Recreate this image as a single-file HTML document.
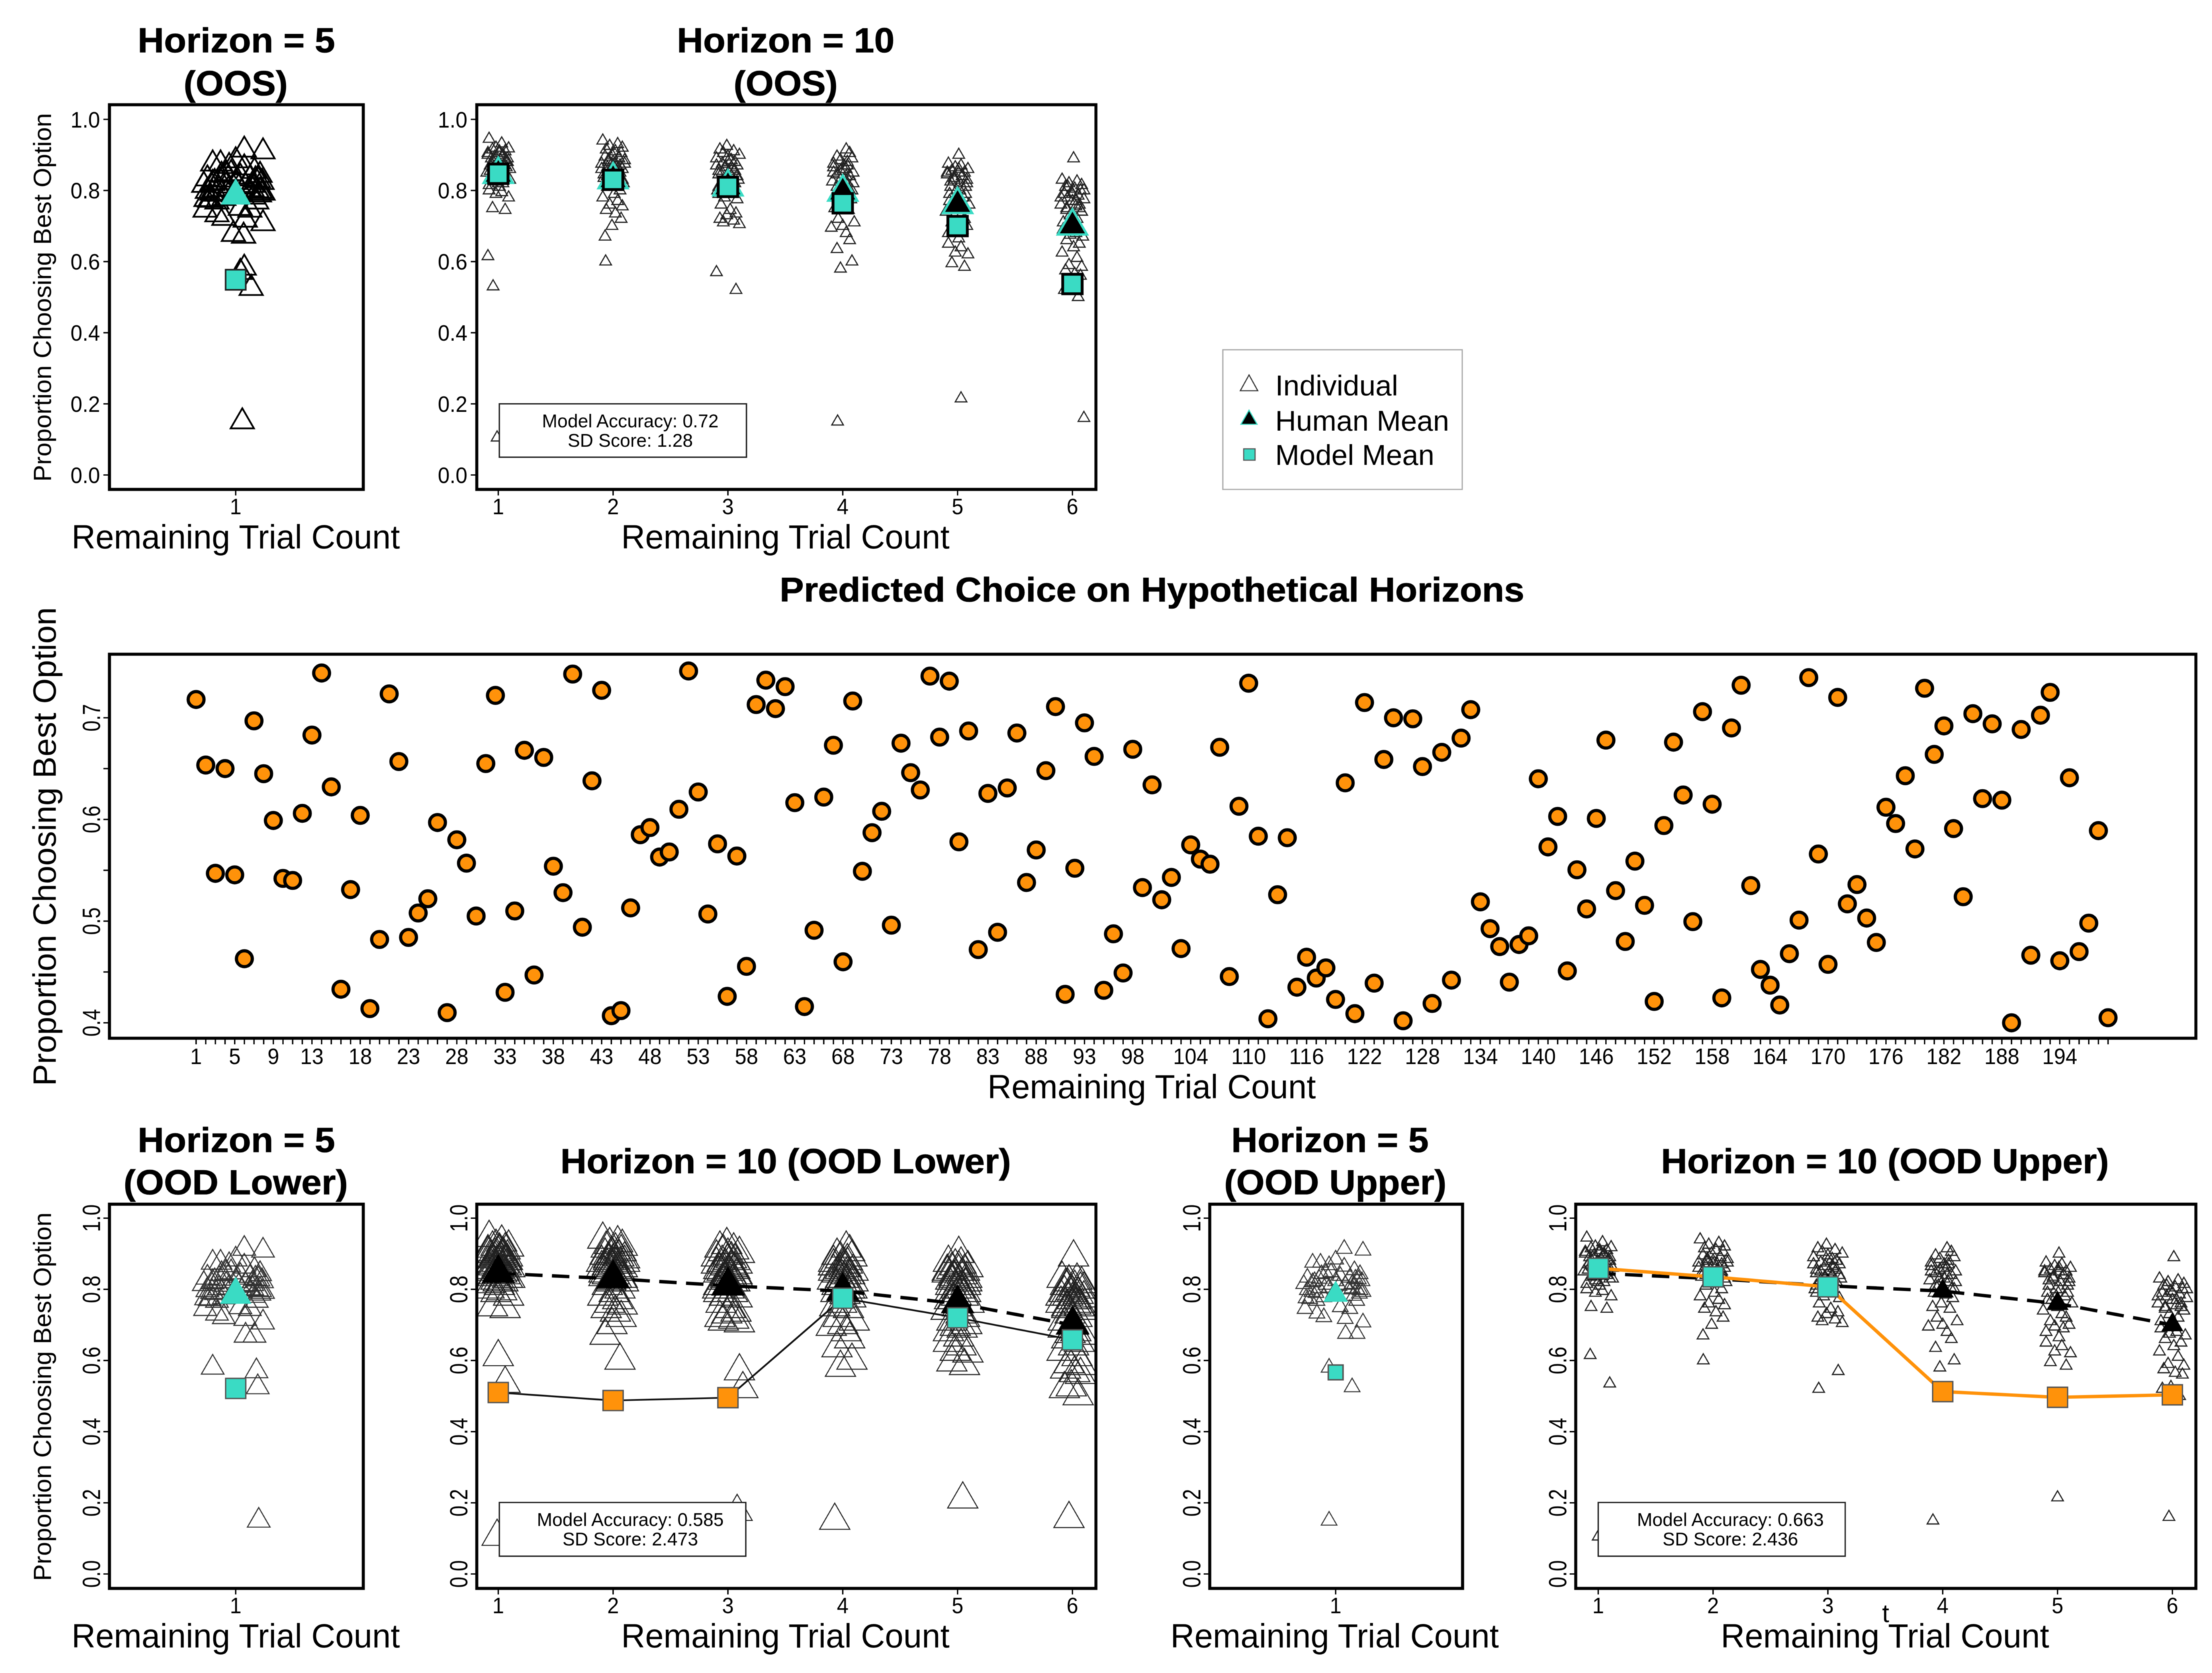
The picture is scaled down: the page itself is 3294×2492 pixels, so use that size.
<!DOCTYPE html>
<html lang="en">
<head>
<meta charset="utf-8">
<title>Model vs Human Choice Panels</title>
<style>
html,body{margin:0;padding:0;background:#fff;}
svg{display:block;filter:blur(0.6px);}
text{font-family:"Liberation Sans",Arial,sans-serif;fill:#000;}
.title{font-weight:bold;font-size:52px;text-anchor:middle;stroke:#000;stroke-width:0.6px;}
.xtitle{font-size:50px;text-anchor:middle;}
.stat{font-size:27.5px;text-anchor:middle;}
.legend{font-size:43px;}
</style>
</head>
<body>
<svg id="figure" xmlns="http://www.w3.org/2000/svg" width="3294" height="2492" viewBox="0 0 3294 2492">
  <rect width="3294" height="2492" fill="#fff"/>

  <text class="title" x="352" y="78" textLength="294" lengthAdjust="spacingAndGlyphs">Horizon = 5</text>
  <text class="title" x="351" y="142" textLength="155" lengthAdjust="spacingAndGlyphs">(OOS)</text>
  <text class="title" x="1170" y="78" textLength="324" lengthAdjust="spacingAndGlyphs">Horizon = 10</text>
  <text class="title" x="1170" y="142" textLength="155" lengthAdjust="spacingAndGlyphs">(OOS)</text>
  <text class="title" x="1715.5" y="896" style="font-size:51px" textLength="1109" lengthAdjust="spacingAndGlyphs">Predicted Choice on Hypothetical Horizons</text>
  <text class="title" x="352" y="1716" textLength="294" lengthAdjust="spacingAndGlyphs">Horizon = 5</text>
  <text class="title" x="351" y="1779" textLength="334" lengthAdjust="spacingAndGlyphs">(OOD Lower)</text>
  <text class="title" x="1170" y="1747.5" textLength="671" lengthAdjust="spacingAndGlyphs">Horizon = 10 (OOD Lower)</text>
  <text class="title" x="1980.5" y="1716" textLength="294" lengthAdjust="spacingAndGlyphs">Horizon = 5</text>
  <text class="title" x="1988.5" y="1779" textLength="331" lengthAdjust="spacingAndGlyphs">(OOD Upper)</text>
  <text class="title" x="2807" y="1747.5" textLength="667" lengthAdjust="spacingAndGlyphs">Horizon = 10 (OOD Upper)</text>

  <g id="plots"></g>

  <text class="xtitle" x="351" y="817" textLength="489" lengthAdjust="spacingAndGlyphs">Remaining Trial Count</text>
  <text class="xtitle" x="1169.5" y="817" textLength="489" lengthAdjust="spacingAndGlyphs">Remaining Trial Count</text>
  <text class="xtitle" x="1715" y="1636" textLength="489" lengthAdjust="spacingAndGlyphs">Remaining Trial Count</text>
  <text class="xtitle" x="351" y="2454" textLength="489" lengthAdjust="spacingAndGlyphs">Remaining Trial Count</text>
  <text class="xtitle" x="1169.5" y="2454" textLength="489" lengthAdjust="spacingAndGlyphs">Remaining Trial Count</text>
  <text class="xtitle" x="1987.5" y="2454" textLength="489" lengthAdjust="spacingAndGlyphs">Remaining Trial Count</text>
  <text class="xtitle" x="2807" y="2454" textLength="489" lengthAdjust="spacingAndGlyphs">Remaining Trial Count</text>
  <text x="2808" y="2416" text-anchor="middle" style="font-size:38px">t</text>

  <text transform="translate(76,443) rotate(-90)" text-anchor="middle" style="font-size:37px" textLength="549" lengthAdjust="spacingAndGlyphs">Proportion Choosing Best Option</text>
  <text transform="translate(83,1261) rotate(-90)" text-anchor="middle" style="font-size:48px" textLength="713" lengthAdjust="spacingAndGlyphs">Proportion Choosing Best Option</text>
  <text transform="translate(76,2080.5) rotate(-90)" text-anchor="middle" style="font-size:37px" textLength="549" lengthAdjust="spacingAndGlyphs">Proportion Choosing Best Option</text>

  <g>
    <rect x="1821" y="521" width="356.5" height="208" fill="#fff" stroke="#aaa" stroke-width="1.8"/>
    <polygon points="1860,558.5 1873,582 1847,582" fill="#fff" stroke="#333" stroke-width="1.6"/>
    <text class="legend" x="1899" y="589" textLength="183" lengthAdjust="spacingAndGlyphs">Individual</text>
    <polygon points="1860,611 1872,632 1848,632" fill="#000" stroke="#3adbc4" stroke-width="1.6"/>
    <text class="legend" x="1899" y="641.5" textLength="259" lengthAdjust="spacingAndGlyphs">Human Mean</text>
    <rect x="1852" y="668.5" width="17" height="17" fill="#3adbc4" stroke="#555" stroke-width="1.6"/>
    <text class="legend" x="1899" y="692.5" textLength="237" lengthAdjust="spacingAndGlyphs">Model Mean</text>
  </g>
</svg>

<script>
// ---------- chart values ----------
const yTickValues = [0, 0.2, 0.4, 0.6, 0.8, 1.0];
const yTickLabels = ["0.0", "0.2", "0.4", "0.6", "0.8", "1.0"];
const xCategoriesH5 = [1];
const xCategoriesH10 = [1, 2, 3, 4, 5, 6];

const humanMeanH10 = [0.845, 0.83, 0.81, 0.795, 0.76, 0.70];
const humanMeanH5 = 0.785;

const modelOosH5 = 0.549;
const modelOosH10 = [0.847, 0.83, 0.81, 0.764, 0.70, 0.537];
const modelLowerH5 = 0.5215;
const modelLowerH10 = [0.51, 0.4875, 0.4955, 0.775, 0.72, 0.658];
const modelUpperH5 = 0.5665;
const modelUpperH10 = [0.859, 0.835, 0.807, 0.5125, 0.4965, 0.5035];

// individuals, horizon 5 (main cluster)
const h5CoreY = [0.875,0.875,0.868,0.884,0.864,0.854,0.843,0.815,0.833,0.823,0.843,0.848,0.838,0.833,0.828,0.823,0.798,0.793,0.803,0.813,0.823,0.813,0.803,0.798,0.793,0.773,0.768,0.778,0.788,0.788,0.768,0.745,0.732,0.722,0.717,0.707,0.914,0.909,0.75,0.745,0.845,0.83,0.82,0.81,0.805,0.8,0.83,0.815,0.8,0.79,0.782,0.775];
const h5CoreJitter = [-0.07,-0.046,-0.02,0,0.026,0.057,0.074,-0.097,-0.086,-0.064,-0.043,-0.014,0.014,0.043,0.069,0.08,-0.086,-0.072,-0.05,-0.029,0,0.029,0.05,0.074,0.083,-0.079,-0.057,-0.036,-0.007,0.072,0.064,-0.093,-0.057,-0.036,0.029,0.083,0.026,0.083,0.014,0.043,-0.03,-0.05,-0.07,0.01,-0.02,0.04,0.06,0.05,0.065,-0.06,0.055,-0.09];

// individuals, horizon 5 (isolated points): [jitter, value]
const h5OutliersOos = [[0.02,0.15],[0.026,0.582],[0.014,0.57],[0.047,0.525],[0.024,0.672],[-0.007,0.677]];
const h5OutliersLower = [[-0.07,0.58],[0.063,0.57],[0.067,0.525],[0.07,0.15],[0.03,0.67],[0.057,0.67]];
const h5OutliersUpper = [[-0.02,0.58],[0.05,0.525],[-0.02,0.15],[0.03,0.675],[0.065,0.675]];

// individuals, horizon 10 (main clusters, one list per trial)
const h10Col1 = [0.945,0.932,0.92,0.918,0.915,0.91,0.905,0.905,0.9,0.895,0.89,0.89,0.885,0.88,0.875,0.87,0.87,0.865,0.86,0.855,0.85,0.845,0.84,0.835,0.83,0.825,0.82,0.815,0.81,0.8,0.795,0.79,0.78,0.75,0.745,0.91,0.9,0.895,0.885,0.88,0.875,0.87,0.865,0.86,0.855,0.85,0.84,0.83,0.82];
const h10Col2 = [0.94,0.93,0.925,0.92,0.915,0.91,0.905,0.9,0.895,0.89,0.885,0.885,0.88,0.875,0.87,0.87,0.865,0.86,0.855,0.85,0.845,0.84,0.835,0.83,0.825,0.82,0.81,0.8,0.79,0.78,0.77,0.76,0.755,0.745,0.735,0.72,0.70,0.67,0.89,0.88,0.875,0.87,0.86,0.855,0.85,0.84,0.83,0.82];
const h10Col3 = [0.925,0.915,0.91,0.905,0.9,0.895,0.89,0.885,0.88,0.875,0.87,0.865,0.86,0.855,0.85,0.845,0.84,0.835,0.83,0.825,0.82,0.81,0.80,0.79,0.78,0.775,0.76,0.745,0.735,0.73,0.72,0.715,0.71,0.705,0.88,0.87,0.865,0.855,0.85,0.84,0.83,0.82,0.81,0.80,0.79];
const h10Col4 = [0.915,0.905,0.895,0.89,0.885,0.88,0.875,0.87,0.865,0.86,0.855,0.85,0.845,0.84,0.83,0.825,0.82,0.81,0.80,0.79,0.785,0.775,0.76,0.75,0.745,0.72,0.71,0.70,0.695,0.68,0.66,0.635,0.60,0.58,0.87,0.865,0.86,0.85,0.84,0.83,0.82,0.81,0.80,0.79];
const h10Col5 = [0.9,0.875,0.87,0.865,0.86,0.855,0.85,0.85,0.845,0.84,0.835,0.83,0.825,0.82,0.81,0.8,0.79,0.78,0.77,0.76,0.75,0.74,0.73,0.72,0.71,0.70,0.695,0.69,0.68,0.665,0.65,0.64,0.625,0.62,0.595,0.585,0.86,0.85,0.84,0.83,0.82,0.81,0.8,0.79,0.78,0.77];
const h10Col6 = [0.89,0.83,0.825,0.82,0.815,0.81,0.805,0.80,0.795,0.79,0.785,0.78,0.775,0.77,0.76,0.755,0.75,0.745,0.74,0.73,0.72,0.71,0.70,0.69,0.68,0.675,0.67,0.66,0.65,0.64,0.625,0.61,0.59,0.585,0.575,0.565,0.56,0.525,0.52,0.50,0.81,0.80,0.79,0.78,0.77,0.76,0.75,0.74];
const h10Jitter = [-0.08,0.03,-0.02,0.09,-0.05,0.06,0.01,-0.09,0.04,-0.03,0.08,-0.06,0.02,0.07,-0.01,-0.07,0.05,-0.04,0.1,0,-0.1,0.03,0.06,-0.05,0.08,-0.02,0.04,-0.08,0.01];

// individuals, horizon 10 (isolated points): [trial, jitter, value]
const h10OutliersOos = [[1,-0.09,0.615],[1,-0.045,0.53],[1,-0.01,0.105],[2,-0.065,0.60],[3,-0.1,0.57],[3,0.07,0.52],[4,-0.045,0.15],[5,0.03,0.215],[6,0.1,0.16]];
const h10OutliersLower = [[1,0,0.61],[1,0.06,0.535],[1,-0.01,0.105],[2,0.06,0.60],[3,0.1,0.57],[3,0.13,0.52],[3,0.08,0.175],[4,-0.07,0.15],[5,0.045,0.21],[6,-0.03,0.155]];
const h10OutliersUpper = [[1,-0.07,0.615],[1,0.1,0.535],[1,0,0.105],[2,-0.085,0.60],[3,-0.08,0.52],[3,0.09,0.57],[4,-0.085,0.15],[5,0,0.215],[6,-0.03,0.16]];

// middle panel
const predictedTrialLabels = [1,5,9,13,18,23,28,33,38,43,48,53,58,63,68,73,78,83,88,93,98,104,110,116,122,128,134,140,146,152,158,164,170,176,182,188,194];
const predictedYTicks = [0.4,0.45,0.5,0.55,0.6,0.65,0.7];
const predictedYLabels = ["0.4","","0.5","","0.6","","0.7"];
const predictedValues = [
0.718,0.6535,0.547,0.650,0.5455,0.463,0.697,0.645,0.599,0.542,
0.540,0.606,0.683,0.744,0.632,0.433,0.531,0.604,0.414,0.482,
0.7235,0.657,0.484,0.508,0.522,0.597,0.410,0.580,0.557,0.505,
0.655,0.722,0.430,0.510,0.668,0.447,0.661,0.554,0.528,0.743,
0.494,0.638,0.727,0.407,0.412,0.513,0.585,0.592,0.563,0.568,
0.610,0.746,0.627,0.507,0.576,0.426,0.564,0.4555,0.713,0.737,
0.709,0.7306,0.6165,0.416,0.491,0.622,0.673,0.460,0.7165,0.549,
0.587,0.608,0.496,0.675,0.646,0.629,0.741,0.681,0.736,0.578,
0.687,0.472,0.6256,0.489,0.631,0.685,0.538,0.570,0.648,0.711,
0.428,0.552,0.695,0.662,0.432,0.4875,0.449,0.669,0.533,0.634,
0.521,0.543,0.473,0.575,0.561,0.556,0.671,0.4455,0.613,0.734,
0.5835,0.404,0.526,0.582,0.435,0.4645,0.444,0.454,0.423,0.636,
0.409,0.715,0.439,0.659,0.700,0.402,0.699,0.652,0.419,0.666,
0.442,0.680,0.708,0.519,0.4926,0.475,0.440,0.477,0.4855,0.640,
0.573,0.603,0.451,0.5505,0.512,0.601,0.678,0.530,0.480,0.559,
0.5155,0.421,0.594,0.676,0.624,0.4995,0.706,0.615,0.4245,0.690,
0.732,0.535,0.4525,0.437,0.4175,0.468,0.501,0.7395,0.566,0.4575,
0.720,0.517,0.536,0.503,0.479,0.612,0.596,0.643,0.571,0.729,
0.664,0.692,0.591,0.524,0.704,0.6205,0.694,0.619,0.400,0.6885,
0.4665,0.7025,0.725,0.461,0.641,0.470,0.498,0.589,0.405
];

// ---------- drawing helpers ----------
const NS = 'http://www.w3.org/2000/svg';
const TEAL = '#3adbc4';
const ORANGE = '#ff920a';
const plots = document.getElementById('plots');

function make(tag, parent, attrs) {
  const el = document.createElementNS(NS, tag);
  for (const k in attrs) el.setAttribute(k, attrs[k]);
  parent.appendChild(el);
  return el;
}
function triPoints(cx, cy, r) {
  return cx + ',' + (cy - r) + ' ' + (cx + 0.866 * r) + ',' + (cy + 0.5 * r) + ' ' + (cx - 0.866 * r) + ',' + (cy + 0.5 * r);
}
function drawIndividual(g, cx, cy, style) {
  const el = make('polygon', g, {points: triPoints(cx, cy, style.r), fill: 'none', stroke: style.color, 'stroke-width': style.width});
  
  
}
function drawHumanMean(g, cx, cy, style) {
  const el = make('polygon', g, {points: triPoints(cx, cy, style.r), fill: style.fill, stroke: style.stroke, 'stroke-width': style.width});
  
  
}
function drawModelMean(g, cx, cy, fill, style) {
  const el = make('rect', g, {x: cx - style.size / 2, y: cy - style.size / 2, width: style.size, height: style.size, fill: fill, stroke: style.stroke, 'stroke-width': style.width});
  
  
}
function drawLine(g, pts, stroke, width, dash) {
  const attrs = {points: pts.join(' '), fill: 'none', stroke: stroke, 'stroke-width': width};
  if (dash) attrs['stroke-dasharray'] = dash;
  const el = make('polyline', g, attrs);
  
  
}
function drawFrameBack(g, box) {
  const el = make('rect', g, {x: box.left, y: box.top, width: box.right - box.left, height: box.bottom - box.top, fill: '#fff'});
  
  
}
function drawFrameFront(g, box) {
  const el = make('rect', g, {x: box.left, y: box.top, width: box.right - box.left, height: box.bottom - box.top, fill: 'none', stroke: '#000', 'stroke-width': 4.5});
  
  
}
function drawXTick(g, x, y1, label, baseline) {
  const tick = make('line', g, {x1: x, x2: x, y1: y1, y2: y1 + 9, stroke: '#000', 'stroke-width': 2});
  
  
  if (label === '') return;
  const t = make('text', g, {x: x, y: baseline, 'text-anchor': 'middle', style: 'font-size:33.5px', textLength: label.length * 17.4, lengthAdjust: 'spacingAndGlyphs'});
  t.textContent = label;
  
  
}
function drawYTick(g, left, y, label, rotated) {
  const tick = make('line', g, {x1: left - 9, x2: left, y1: y, y2: y, stroke: '#000', 'stroke-width': 2});
  
  
  if (label === '') return;
  let t;
  if (rotated) {
    t = make('text', g, {transform: 'translate(' + (left - 14) + ',' + y + ') rotate(-90)', 'text-anchor': 'middle', style: 'font-size:37px', textLength: 41, lengthAdjust: 'spacingAndGlyphs'});
  } else {
    t = make('text', g, {x: left - 14, y: y + 12, 'text-anchor': 'end', style: 'font-size:33.5px', textLength: 44, lengthAdjust: 'spacingAndGlyphs'});
  }
  t.textContent = label;
  
  
}

let clipCount = 0;
function drawPanel(p) {
  const g = make('g', plots, {});
  
  
  const box = p.box;
  const sx = x => p.xAt1 + (x - 1) * p.xUnit;
  const sy = v => p.yAt0 - v * p.yUnit;
  drawFrameBack(g, box);

  clipCount += 1;
  const clip = make('clipPath', g, {id: 'clip' + clipCount});
  make('rect', clip, {x: box.left, y: box.top, width: box.right - box.left, height: box.bottom - box.top});
  const marks = make('g', g, {'clip-path': 'url(#clip' + clipCount + ')'});

  if (p.columns) {
    p.columns.forEach(function (col, c) {
      col.forEach(function (v, i) {
        const jit = h10Jitter[(i + c * 7) % h10Jitter.length] * p.jitterScale;
        drawIndividual(marks, sx(c + 1 + jit), sy(v), p.ind);
      });
    });
    p.outliers.forEach(function (o) {
      drawIndividual(marks, sx(o[0] + o[1]), sy(o[2]), p.ind);
    });
  } else {
    h5CoreY.forEach(function (v, i) {
      drawIndividual(marks, sx(1 + h5CoreJitter[i]), sy(v), p.ind);
    });
    p.outliers.forEach(function (o) {
      drawIndividual(marks, sx(1 + o[0]), sy(o[1]), p.ind);
    });
  }

  if (p.dashed) {
    drawLine(marks, humanMeanH10.map((v, i) => sx(i + 1) + ',' + sy(v)), '#000', 5, '26 14');
  }
  p.human.forEach(function (v, i) {
    drawHumanMean(marks, sx(i + 1), sy(v), p.humanStyle);
  });
  if (p.modelLine) {
    drawLine(marks, p.model.map((v, i) => sx(i + 1) + ',' + sy(v)), p.modelLine.color, p.modelLine.width);
  }
  p.model.forEach(function (v, i) {
    drawModelMean(marks, sx(i + 1), sy(v), p.modelFill[i], p.modelStyle);
  });

  if (p.stat) {
    const sb = make('g', g, {});
    
    
    make('rect', sb, {x: p.stat.x, y: p.stat.y, width: p.stat.w, height: p.stat.h, fill: '#fff', stroke: '#222', 'stroke-width': 2});
    const t1 = make('text', sb, {'class': 'stat', x: p.stat.cx, y: p.stat.y + 35});
    t1.textContent = p.stat.line1;
    
    
    const t2 = make('text', sb, {'class': 'stat', x: p.stat.cx, y: p.stat.y + 64});
    t2.textContent = p.stat.line2;
    
    
  }

  drawFrameFront(g, box);
  p.categories.forEach(function (c) {
    drawXTick(g, sx(c), box.bottom, String(c), p.xLabelBase);
  });
  yTickValues.forEach(function (v, i) {
    drawYTick(g, box.left, sy(v), yTickLabels[i], p.rotated);
  });
}

function drawPredicted() {
  const g = make('g', plots, {});
  
  
  const box = {left: 163, right: 3270, top: 974.5, bottom: 1546.5};
  const sx = i => 292 + (i - 1) * 14.38;
  const sy = v => 1523.5 - (v - 0.4) * 1514.5;
  drawFrameBack(g, box);
  predictedValues.forEach(function (v, i) {
    const el = make('circle', g, {cx: sx(i + 1), cy: sy(v), r: 11.8, fill: ORANGE, stroke: '#000', 'stroke-width': 4.8});
    
    
  });
  drawFrameFront(g, box);
  predictedValues.forEach(function (v, i) {
    const n = i + 1;
    drawXTick(g, sx(n), box.bottom, predictedTrialLabels.indexOf(n) >= 0 ? String(n) : '', 1585);
  });
  predictedYTicks.forEach(function (v, i) {
    drawYTick(g, box.left, sy(v), predictedYLabels[i], true);
  });
}

// ---------- layout ----------
const topRow = {top: 156, bottom: 729, yAt0: 707.5, yUnit: 529.7, xLabelBase: 766};
const botRow = {top: 1793.7, bottom: 2366, yAt0: 2344.5, yUnit: 530, xLabelBase: 2403};
const allCols = [h10Col1, h10Col2, h10Col3, h10Col4, h10Col5, h10Col6];
const tealSix = [TEAL, TEAL, TEAL, TEAL, TEAL, TEAL];

const panelDefs = [
  {row: topRow, left: 163, right: 541, xAt1: 351, xUnit: 490, categories: xCategoriesH5, rotated: false,
   outliers: h5OutliersOos, ind: {r: 20, color: '#000', width: 2.6},
   human: [humanMeanH5], humanStyle: {r: 25, fill: TEAL, stroke: TEAL, width: 1},
   model: [modelOosH5], modelFill: [TEAL], modelStyle: {size: 30, stroke: '#222', width: 2.4}},
  {row: topRow, left: 710, right: 1632, xAt1: 742, xUnit: 171, categories: xCategoriesH10, rotated: false,
   columns: allCols, jitterScale: 1, outliers: h10OutliersOos, ind: {r: 10, color: '#222', width: 1.7},
   human: humanMeanH10, humanStyle: {r: 25, fill: '#000', stroke: TEAL, width: 3.5},
   model: modelOosH10, modelFill: tealSix, modelStyle: {size: 29, stroke: '#000', width: 4.2},
   stat: {x: 743.6, y: 601.5, w: 368, h: 79.5, cx: 938.6, line1: 'Model Accuracy: 0.72', line2: 'SD Score: 1.28'}},
  {row: botRow, left: 163, right: 541, xAt1: 351, xUnit: 490, categories: xCategoriesH5, rotated: true,
   outliers: h5OutliersLower, ind: {r: 19.5, color: '#333', width: 1.6},
   human: [humanMeanH5], humanStyle: {r: 26, fill: TEAL, stroke: TEAL, width: 1},
   model: [modelLowerH5], modelFill: [TEAL], modelStyle: {size: 30, stroke: '#555', width: 2}},
  {row: botRow, left: 710, right: 1632, xAt1: 742, xUnit: 171, categories: xCategoriesH10, rotated: true,
   columns: allCols, jitterScale: 1, outliers: h10OutliersLower, ind: {r: 26, color: '#222', width: 1.5}, dashed: true,
   human: humanMeanH10, humanStyle: {r: 28, fill: '#000', stroke: '#000', width: 1},
   model: modelLowerH10, modelFill: [ORANGE, ORANGE, ORANGE, TEAL, TEAL, TEAL], modelStyle: {size: 30, stroke: '#555', width: 2},
   modelLine: {color: '#111', width: 2.6},
   stat: {x: 743.6, y: 2238, w: 367, h: 80, cx: 938.6, line1: 'Model Accuracy: 0.585', line2: 'SD Score: 2.473'}},
  {row: botRow, left: 1801.5, right: 2178, xAt1: 1989, xUnit: 490, categories: xCategoriesH5, rotated: true,
   outliers: h5OutliersUpper, ind: {r: 13.5, color: '#333', width: 1.5},
   human: [humanMeanH5], humanStyle: {r: 20, fill: TEAL, stroke: TEAL, width: 1},
   model: [modelUpperH5], modelFill: [TEAL], modelStyle: {size: 22, stroke: '#555', width: 2.2}},
  {row: botRow, left: 2346.5, right: 3270, xAt1: 2380, xUnit: 171, categories: xCategoriesH10, rotated: true,
   columns: allCols, jitterScale: 1.25, outliers: h10OutliersUpper, ind: {r: 10, color: '#222', width: 1.7}, dashed: true,
   human: humanMeanH10, humanStyle: {r: 18, fill: '#000', stroke: '#000', width: 1},
   model: modelUpperH10, modelFill: [TEAL, TEAL, TEAL, ORANGE, ORANGE, ORANGE], modelStyle: {size: 30, stroke: '#555', width: 2},
   modelLine: {color: ORANGE, width: 5},
   stat: {x: 2380, y: 2238, w: 367.8, h: 80, cx: 2576.8, line1: 'Model Accuracy: 0.663', line2: 'SD Score: 2.436'}}
];

panelDefs.forEach(function (d) {
  d.box = {left: d.left, right: d.right, top: d.row.top, bottom: d.row.bottom};
  d.yAt0 = d.row.yAt0;
  d.yUnit = d.row.yUnit;
  d.xLabelBase = d.row.xLabelBase;
  drawPanel(d);
});
drawPredicted();
</script>
</body>
</html>
